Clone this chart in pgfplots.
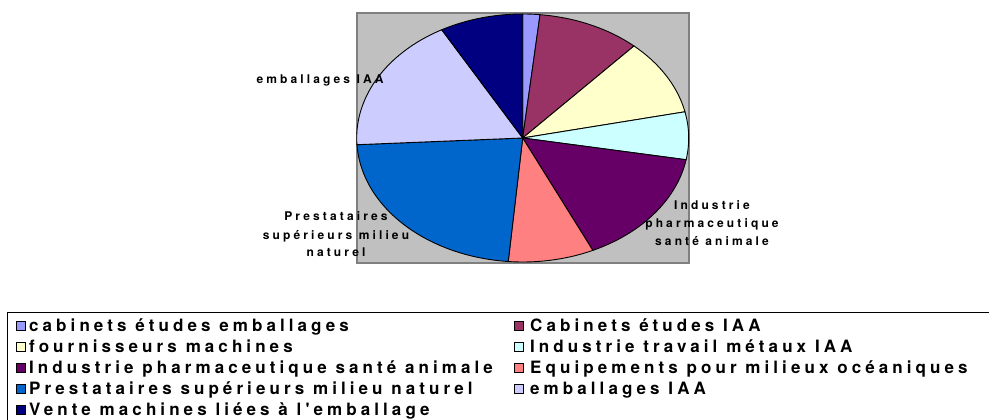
\documentclass[border=0pt]{standalone}
\usepackage{pgfplots}
\pgfplotsset{compat=1.18}
\usepackage{fontspec}
\setmainfont{TeX Gyre Heros}
\newfontfamily\lgdfont[LetterSpace=24]{TeX Gyre Heros}
\newfontfamily\lblfont[LetterSpace=26]{TeX Gyre Heros}
\definecolor{plotgray}{HTML}{C0C0C0}
\definecolor{framegray}{HTML}{808080}
\definecolor{cA}{HTML}{9999FF}
\definecolor{cB}{HTML}{993366}
\definecolor{cC}{HTML}{FFFFCC}
\definecolor{cD}{HTML}{CCFFFF}
\definecolor{cE}{HTML}{660066}
\definecolor{cF}{HTML}{FF8080}
\definecolor{cG}{HTML}{0066CC}
\definecolor{cH}{HTML}{CCCCFF}
\definecolor{cI}{HTML}{000080}

% pie centre and radii (axis units = pixels)
\def\cx{522.7}
\def\cy{282}
\def\rx{166}
\def\ry{124}

\newcommand{\lgd}{\lgdfont\bfseries\fontsize{17}{19}\selectfont}
\newcommand{\lbl}{\lblfont\bfseries\fontsize{12}{18}\selectfont}
% legend entry: x of marker, x of text, y of row, colour, text
\newcommand{\lgdentry}[5]{%
  \draw[fill=#4,draw=black,line width=0.7pt] (axis cs:#1,#3-4.5) rectangle (axis cs:#1+9,#3+4.5);
  \node[anchor=base west,inner sep=0pt] at (axis cs:#2,#3-6) {\lgd #5};}

\begin{document}
\begin{tikzpicture}
\begin{axis}[
    width=989pt,height=420pt,scale only axis,
    xmin=0,xmax=989,ymin=0,ymax=420,
    hide axis,clip=true
]
% plot area
\fill[plotgray] (axis cs:357,157) rectangle (axis cs:689,407);
\draw[framegray,line width=1.5pt] (axis cs:357,157) rectangle (axis cs:689,407);

% slices: start/end angles (degrees, clockwise from 12 o'clock)
\addplot[fill=cA,draw=black,line width=0.9pt,domain=84:90,samples=10]
  ({\cx+\rx*cos(x)},{\cy+\ry*sin(x)}) -- (axis cs:\cx,\cy) -- cycle;
\addplot[fill=cB,draw=black,line width=0.9pt,domain=47.9:84,samples=40]
  ({\cx+\rx*cos(x)},{\cy+\ry*sin(x)}) -- (axis cs:\cx,\cy) -- cycle;
\addplot[fill=cC,draw=black,line width=0.9pt,domain=12.2:47.9,samples=40]
  ({\cx+\rx*cos(x)},{\cy+\ry*sin(x)}) -- (axis cs:\cx,\cy) -- cycle;
\addplot[fill=cD,draw=black,line width=0.9pt,domain=-10.1:12.2,samples=30]
  ({\cx+\rx*cos(x)},{\cy+\ry*sin(x)}) -- (axis cs:\cx,\cy) -- cycle;
\addplot[fill=cE,draw=black,line width=0.9pt,domain=-65:-10.1,samples=50]
  ({\cx+\rx*cos(x)},{\cy+\ry*sin(x)}) -- (axis cs:\cx,\cy) -- cycle;
\addplot[fill=cF,draw=black,line width=0.9pt,domain=-95:-65,samples=30]
  ({\cx+\rx*cos(x)},{\cy+\ry*sin(x)}) -- (axis cs:\cx,\cy) -- cycle;
\addplot[fill=cG,draw=black,line width=0.9pt,domain=-176.9:-95,samples=70]
  ({\cx+\rx*cos(x)},{\cy+\ry*sin(x)}) -- (axis cs:\cx,\cy) -- cycle;
\addplot[fill=cH,draw=black,line width=0.9pt,domain=-240.8:-176.9,samples=60]
  ({\cx+\rx*cos(x)},{\cy+\ry*sin(x)}) -- (axis cs:\cx,\cy) -- cycle;
\addplot[fill=cI,draw=black,line width=0.9pt,domain=-270:-240.8,samples=30]
  ({\cx+\rx*cos(x)},{\cy+\ry*sin(x)}) -- (axis cs:\cx,\cy) -- cycle;

% slice labels
\node[anchor=base] at (axis cs:320,336.6) {\lbl emballages IAA};
\node[anchor=base] at (axis cs:336,199) {\lbl Prestataires};
\node[anchor=base] at (axis cs:336,180.7) {\lbl supérieurs milieu};
\node[anchor=base] at (axis cs:336,163) {\lbl naturel};
\node[anchor=base] at (axis cs:712,210.7) {\lbl Industrie};
\node[anchor=base] at (axis cs:712,192.7) {\lbl pharmaceutique};
\node[anchor=base] at (axis cs:712,174.9) {\lbl santé animale};

% legend
\draw[black,line width=1.3pt] (axis cs:7.3,107.7) rectangle (axis cs:1000,-10);
\lgdentry{16}{29}{94}{cA}{cabinets études emballages}
\lgdentry{16}{29}{73}{cC}{fournisseurs machines}
\lgdentry{16}{29}{52}{cE}{Industrie pharmaceutique santé animale}
\lgdentry{16}{29}{31.5}{cG}{Prestataires supérieurs milieu naturel}
\lgdentry{16}{29}{10}{cI}{Vente machines liées à l'emballage}
\lgdentry{514.5}{530}{94}{cB}{Cabinets études IAA}
\lgdentry{514.5}{530}{73}{cD}{Industrie travail métaux IAA}
\lgdentry{514.5}{530}{52}{cF}{Equipements pour milieux océaniques}
\lgdentry{514.5}{530}{31.5}{cH}{emballages IAA}
\end{axis}
\pgfresetboundingbox
\path[use as bounding box] (current axis.south west) rectangle (current axis.north east);
\end{tikzpicture}
\end{document}
